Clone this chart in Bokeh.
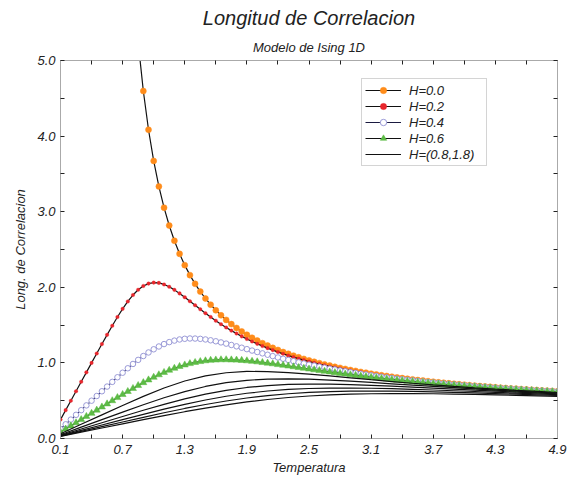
from bokeh.plotting import figure
from bokeh.models import FixedTicker, LinearAxis, Legend, LegendItem, Title, PrintfTickFormatter
from bokeh.embed import file_html
from bokeh.resources import INLINE

# ---------------- data ----------------
T_mark = [0.10, 0.15, 0.20, 0.25, 0.30, 0.35, 0.40, 0.45, 0.50, 0.55,
          0.60, 0.65, 0.70, 0.75, 0.80, 0.85, 0.90, 0.95, 1.00, 1.05,
          1.10, 1.15, 1.20, 1.25, 1.30, 1.35, 1.40, 1.45, 1.50, 1.55,
          1.60, 1.65, 1.70, 1.75, 1.80, 1.85, 1.90, 1.95, 2.00, 2.05,
          2.10, 2.15, 2.20, 2.25, 2.30, 2.35, 2.40, 2.45, 2.50, 2.55,
          2.60, 2.65, 2.70, 2.75, 2.80, 2.85, 2.90, 2.95, 3.00, 3.05,
          3.10, 3.15, 3.20, 3.25, 3.30, 3.35, 3.40, 3.45, 3.50, 3.55,
          3.60, 3.65, 3.70, 3.75, 3.80, 3.85, 3.90, 3.95, 4.00, 4.05,
          4.10, 4.15, 4.20, 4.25, 4.30, 4.35, 4.40, 4.45, 4.50, 4.55,
          4.60, 4.65, 4.70, 4.75, 4.80, 4.85, 4.90]

T_h00 = T_mark[15:]  # H=0 curve, from T=0.85 (it leaves the top of the chart)
xi_h00 = [5.242, 4.596, 4.084, 3.672, 3.334, 3.053, 2.817, 2.616, 2.443, 2.293,
          2.161, 2.046, 1.943, 1.852, 1.770, 1.696, 1.630, 1.569, 1.513, 1.462,
          1.416, 1.372, 1.332, 1.295, 1.261, 1.229, 1.199, 1.171, 1.144, 1.120,
          1.096, 1.074, 1.053, 1.033, 1.015, 0.997, 0.980, 0.964, 0.948, 0.934,
          0.920, 0.906, 0.894, 0.881, 0.870, 0.858, 0.847, 0.837, 0.827, 0.817,
          0.808, 0.799, 0.790, 0.782, 0.773, 0.766, 0.758, 0.751, 0.743, 0.737,
          0.730, 0.723, 0.717, 0.711, 0.705, 0.699, 0.693, 0.688, 0.683, 0.677,
          0.672, 0.667, 0.662, 0.658, 0.653, 0.649, 0.644, 0.640, 0.636, 0.632,
          0.628, 0.624]

xi_h02 = [0.250, 0.375, 0.500, 0.625, 0.750, 0.875, 1.000, 1.125, 1.249, 1.371,
          1.491, 1.607, 1.715, 1.813, 1.898, 1.967, 2.018, 2.049, 2.062, 2.058,
          2.038, 2.007, 1.966, 1.919, 1.868, 1.815, 1.762, 1.709, 1.657, 1.607,
          1.558, 1.512, 1.469, 1.427, 1.388, 1.351, 1.316, 1.283, 1.252, 1.223,
          1.195, 1.169, 1.144, 1.120, 1.098, 1.076, 1.056, 1.037, 1.019, 1.001,
          0.984, 0.968, 0.953, 0.939, 0.925, 0.911, 0.899, 0.886, 0.875, 0.863,
          0.852, 0.842, 0.832, 0.822, 0.813, 0.804, 0.795, 0.786, 0.778, 0.770,
          0.762, 0.755, 0.748, 0.741, 0.734, 0.727, 0.721, 0.715, 0.709, 0.703,
          0.697, 0.692, 0.686, 0.681, 0.676, 0.671, 0.666, 0.661, 0.656, 0.652,
          0.647, 0.643, 0.639, 0.635, 0.631, 0.627, 0.623]

xi_h04 = [0.125, 0.188, 0.250, 0.313, 0.375, 0.438, 0.500, 0.562, 0.625, 0.687,
          0.749, 0.810, 0.870, 0.929, 0.986, 1.040, 1.091, 1.138, 1.180, 1.217,
          1.249, 1.275, 1.295, 1.310, 1.319, 1.323, 1.322, 1.318, 1.310, 1.299,
          1.286, 1.271, 1.255, 1.237, 1.219, 1.201, 1.182, 1.163, 1.144, 1.126,
          1.108, 1.090, 1.072, 1.055, 1.039, 1.023, 1.007, 0.992, 0.977, 0.964,
          0.950, 0.937, 0.924, 0.912, 0.899, 0.888, 0.877, 0.866, 0.856, 0.846,
          0.836, 0.826, 0.817, 0.808, 0.800, 0.791, 0.783, 0.776, 0.768, 0.761,
          0.753, 0.746, 0.740, 0.733, 0.727, 0.720, 0.714, 0.708, 0.703, 0.697,
          0.692, 0.686, 0.681, 0.676, 0.671, 0.666, 0.662, 0.657, 0.653, 0.648,
          0.644, 0.640, 0.636, 0.632, 0.628, 0.624, 0.620]

xi_h06 = [0.083, 0.125, 0.167, 0.208, 0.250, 0.292, 0.333, 0.375, 0.417, 0.458,
          0.500, 0.541, 0.582, 0.622, 0.662, 0.701, 0.739, 0.775, 0.810, 0.843,
          0.874, 0.903, 0.929, 0.953, 0.973, 0.991, 1.006, 1.018, 1.028, 1.035,
          1.039, 1.042, 1.042, 1.040, 1.037, 1.033, 1.028, 1.021, 1.014, 1.005,
          0.997, 0.988, 0.978, 0.969, 0.959, 0.949, 0.939, 0.929, 0.919, 0.909,
          0.899, 0.890, 0.880, 0.871, 0.861, 0.853, 0.844, 0.835, 0.826, 0.818,
          0.810, 0.802, 0.794, 0.787, 0.779, 0.772, 0.765, 0.758, 0.752, 0.745,
          0.739, 0.733, 0.726, 0.721, 0.715, 0.709, 0.704, 0.698, 0.693, 0.688,
          0.683, 0.678, 0.673, 0.668, 0.664, 0.659, 0.655, 0.650, 0.646, 0.642,
          0.638, 0.634, 0.630, 0.626, 0.622, 0.619, 0.615]

T_line = [0.1, 0.3, 0.5, 0.7, 0.9, 1.1, 1.3, 1.5, 1.7, 1.9, 2.1, 2.3, 2.5,
          2.7, 2.9, 3.1, 3.3, 3.5, 3.7, 3.9, 4.1, 4.3, 4.5, 4.7, 4.9]
xi_h08 = [0.0625, 0.1875, 0.3125, 0.4367, 0.5573, 0.6680, 0.7606, 0.8287, 0.8699, 0.8871,
          0.8859, 0.8726, 0.8521, 0.8280, 0.8028, 0.7777, 0.7535, 0.7306, 0.7091, 0.6891,
          0.6706, 0.6534, 0.6374, 0.6226, 0.6088]
xi_h10 = [0.0500, 0.1500, 0.2500, 0.3496, 0.4471, 0.5391, 0.6210, 0.6883, 0.7380, 0.7700,
          0.7862, 0.7898, 0.7844, 0.7731, 0.7582, 0.7413, 0.7236, 0.7059, 0.6886, 0.6719,
          0.6560, 0.6410, 0.6268, 0.6134, 0.6008]
xi_h12 = [0.0417, 0.1250, 0.2083, 0.2914, 0.3731, 0.4514, 0.5235, 0.5861, 0.6370, 0.6750,
          0.7005, 0.7148, 0.7202, 0.7188, 0.7126, 0.7031, 0.6916, 0.6790, 0.6658, 0.6526,
          0.6395, 0.6268, 0.6145, 0.6027, 0.5915]
xi_h14 = [0.0357, 0.1071, 0.1786, 0.2498, 0.3201, 0.3881, 0.4519, 0.5093, 0.5585, 0.5982,
          0.6282, 0.6489, 0.6615, 0.6674, 0.6681, 0.6648, 0.6587, 0.6508, 0.6416, 0.6317,
          0.6215, 0.6111, 0.6008, 0.5908, 0.5810]
xi_h16 = [0.0313, 0.0938, 0.1563, 0.2186, 0.2803, 0.3403, 0.3973, 0.4497, 0.4962, 0.5356,
          0.5674, 0.5917, 0.6089, 0.6199, 0.6258, 0.6276, 0.6261, 0.6223, 0.6168, 0.6100,
          0.6025, 0.5945, 0.5862, 0.5779, 0.5695]
xi_h18 = [0.0278, 0.0833, 0.1389, 0.1943, 0.2492, 0.3029, 0.3543, 0.4023, 0.4458, 0.4840,
          0.5161, 0.5422, 0.5622, 0.5768, 0.5865, 0.5921, 0.5944, 0.5941, 0.5918, 0.5879,
          0.5829, 0.5772, 0.5708, 0.5642, 0.5574]

x_major = [0.1, 0.7, 1.3, 1.9, 2.5, 3.1, 3.7, 4.3, 4.9]
x_minor = [0.4, 1.0, 1.6, 2.2, 2.8, 3.4, 4.0, 4.6]
y_major = [0, 1, 2, 3, 4, 5]
y_minor = [0.5, 1.5, 2.5, 3.5, 4.5]

legend_labels = ["H=0.0", "H=0.2", "H=0.4", "H=0.6", "H=(0.8,1.8)"]

# ---------------- styling ----------------
FONT = "Liberation Sans"
TXT = "#222222"
AXIS_LINE = "#aaaaaa"

p = figure(width=567, height=481, x_range=(0.1, 4.9), y_range=(0, 5),
           output_backend="svg", toolbar_location=None, title=None,
           min_border_left=60, min_border_right=10, min_border_top=59, min_border_bottom=43)
p.xgrid.visible = False
p.ygrid.visible = False
p.outline_line_color = None
p.background_fill_color = "white"
p.border_fill_color = "white"


def style_axis(ax, ticks, minor, show_labels=True):
    if show_labels:
        ax.ticker = FixedTicker(ticks=ticks, minor_ticks=minor)
    else:
        # tick marks only (as minor ticks), no labels
        ax.ticker = FixedTicker(ticks=[], minor_ticks=sorted(ticks + minor))
    ax.formatter = PrintfTickFormatter(format="%.1f")
    ax.axis_line_color = AXIS_LINE
    ax.axis_line_width = 1
    ax.major_tick_line_color = TXT
    ax.minor_tick_line_color = TXT
    ax.major_tick_in = 4
    ax.major_tick_out = 0
    ax.minor_tick_in = 4
    ax.minor_tick_out = 0
    ax.major_label_text_font = FONT
    ax.major_label_text_font_style = "italic"
    ax.major_label_text_color = TXT
    ax.major_label_text_font_size = "13px"
    ax.major_label_standoff = 5


style_axis(p.xaxis[0], x_major, x_minor)
style_axis(p.yaxis[0], y_major, y_minor)
p.xaxis[0].major_label_standoff = 6
p.xaxis[0].axis_label = "Temperatura"
p.yaxis[0].axis_label = "Long. de Correlacion"
for ax in (p.xaxis[0], p.yaxis[0]):
    ax.axis_label_text_font = FONT
    ax.axis_label_text_font_style = "italic"
    ax.axis_label_text_font_size = "13px"
    ax.axis_label_text_color = TXT
p.xaxis[0].axis_label_standoff = 3
p.yaxis[0].axis_label_standoff = 6

top_ax = LinearAxis()
style_axis(top_ax, x_major, x_minor, show_labels=False)
p.add_layout(top_ax, "above")
right_ax = LinearAxis()
style_axis(right_ax, y_major, y_minor, show_labels=False)
p.add_layout(right_ax, "right")

p.add_layout(Title(text="Modelo de Ising 1D", align="center", text_font=FONT,
                   text_font_size="13px", text_font_style="italic",
                   text_color=TXT, standoff=11), "above")
p.add_layout(Title(text="Longitud de Correlacion", align="center", text_font=FONT,
                   text_font_size="20px", text_font_style="italic",
                   text_color=TXT, standoff=8), "above")

LINE_C = "#111111"
LW = 1.2

# H = 0.0
l0 = p.line(T_h00, xi_h00, line_color=LINE_C, line_width=LW)
m0 = p.scatter(T_h00, xi_h00, marker="circle", size=6, fill_color="#ff8c1a",
               line_color="#ff8c1a", line_width=0.5)
# H = 0.2
l1 = p.line(T_mark, xi_h02, line_color=LINE_C, line_width=LW)
m1 = p.scatter(T_mark, xi_h02, marker="circle", size=3.6, fill_color="#e8262c",
               line_color="#e8262c", line_width=0.3)
# H = 0.4
l2 = p.line(T_mark, xi_h04, line_color="#1a1a40", line_width=LW)
m2 = p.scatter(T_mark, xi_h04, marker="circle", size=5.5, fill_color="white",
               line_color="#9a9ad8", line_width=1)
# H = 0.6
l3 = p.line(T_mark, xi_h06, line_color=LINE_C, line_width=LW)
m3 = p.scatter(T_mark, xi_h06, marker="triangle", size=7, fill_color="#5cbb45",
               line_color="#5cbb45", line_width=0.5)
# H = 0.8 ... 1.8
black = []
for ys in (xi_h08, xi_h10, xi_h12, xi_h14, xi_h16, xi_h18):
    black.append(p.line(T_line, ys, line_color=LINE_C, line_width=LW))

legend = Legend(items=[
    LegendItem(label=legend_labels[0], renderers=[l0, m0]),
    LegendItem(label=legend_labels[1], renderers=[l1, m1]),
    LegendItem(label=legend_labels[2], renderers=[l2, m2]),
    LegendItem(label=legend_labels[3], renderers=[l3, m3]),
    LegendItem(label=legend_labels[4], renderers=[black[0]]),
], location=(301, 272))
legend.label_text_font = FONT
legend.label_text_font_style = "italic"
legend.label_text_font_size = "13px"
legend.label_text_color = TXT
legend.glyph_width = 36
legend.glyph_height = 16
legend.label_height = 16
legend.label_width = 74
legend.label_standoff = 8
legend.spacing = 0
legend.padding = 3
legend.margin = 0
legend.border_line_color = "#aaaaaa"
legend.border_line_width = 1
legend.background_fill_color = "white"
legend.background_fill_alpha = 1
p.add_layout(legend)

open("out.html", "w").write(file_html(p, INLINE))
